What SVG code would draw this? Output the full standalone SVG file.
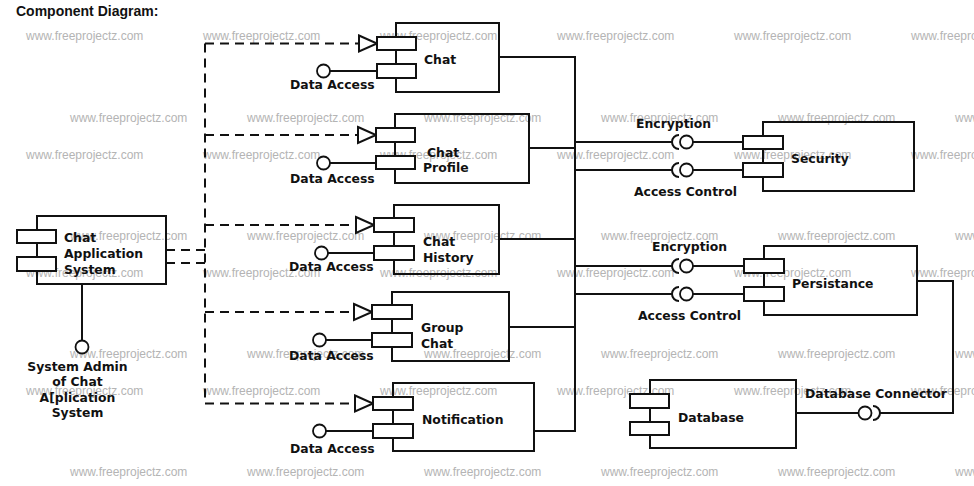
<svg xmlns="http://www.w3.org/2000/svg" width="974" height="486" viewBox="0 0 974 486">
<style>
.wm{font-family:"Liberation Sans",Arial,sans-serif;font-size:12px;fill:#b4b4b4}
.t{font-family:"DejaVu Sans",sans-serif;font-weight:bold;font-size:12.4px;fill:#111}
.title{font-family:"Liberation Sans",Arial,sans-serif;font-weight:bold;font-size:14px;fill:#111}
.box{fill:none;stroke:#111;stroke-width:2}
.port{fill:#fff;stroke:#111;stroke-width:2}
.ln{fill:none;stroke:#111;stroke-width:2}
.dash{fill:none;stroke:#111;stroke-width:2;stroke-dasharray:9 6}
.tri{fill:#fff;stroke:#111;stroke-width:2}
.ball{fill:#fff;stroke:#111;stroke-width:1.8}
</style>
<rect width="974" height="486" fill="#fff"/>
<g id="watermarks">
<text class="wm" x="26" y="40">www.freeprojectz.com</text><text class="wm" x="203" y="40">www.freeprojectz.com</text><text class="wm" x="380" y="40">www.freeprojectz.com</text><text class="wm" x="557" y="40">www.freeprojectz.com</text><text class="wm" x="734" y="40">www.freeprojectz.com</text><text class="wm" x="911" y="40">www.freeprojectz.com</text>
<text class="wm" x="70" y="122">www.freeprojectz.com</text><text class="wm" x="247" y="122">www.freeprojectz.com</text><text class="wm" x="424" y="122">www.freeprojectz.com</text><text class="wm" x="601" y="122">www.freeprojectz.com</text><text class="wm" x="778" y="122">www.freeprojectz.com</text><text class="wm" x="955" y="122">www.freeprojectz.com</text>
<text class="wm" x="26" y="159">www.freeprojectz.com</text><text class="wm" x="203" y="159">www.freeprojectz.com</text><text class="wm" x="380" y="159">www.freeprojectz.com</text><text class="wm" x="557" y="159">www.freeprojectz.com</text><text class="wm" x="734" y="159">www.freeprojectz.com</text><text class="wm" x="911" y="159">www.freeprojectz.com</text>
<text class="wm" x="70" y="240">www.freeprojectz.com</text><text class="wm" x="247" y="240">www.freeprojectz.com</text><text class="wm" x="424" y="240">www.freeprojectz.com</text><text class="wm" x="601" y="240">www.freeprojectz.com</text><text class="wm" x="778" y="240">www.freeprojectz.com</text><text class="wm" x="955" y="240">www.freeprojectz.com</text>
<text class="wm" x="26" y="277">www.freeprojectz.com</text><text class="wm" x="203" y="277">www.freeprojectz.com</text><text class="wm" x="380" y="277">www.freeprojectz.com</text><text class="wm" x="557" y="277">www.freeprojectz.com</text><text class="wm" x="734" y="277">www.freeprojectz.com</text><text class="wm" x="911" y="277">www.freeprojectz.com</text>
<text class="wm" x="70" y="358">www.freeprojectz.com</text><text class="wm" x="247" y="358">www.freeprojectz.com</text><text class="wm" x="424" y="358">www.freeprojectz.com</text><text class="wm" x="601" y="358">www.freeprojectz.com</text><text class="wm" x="778" y="358">www.freeprojectz.com</text><text class="wm" x="955" y="358">www.freeprojectz.com</text>
<text class="wm" x="26" y="395">www.freeprojectz.com</text><text class="wm" x="203" y="395">www.freeprojectz.com</text><text class="wm" x="380" y="395">www.freeprojectz.com</text><text class="wm" x="557" y="395">www.freeprojectz.com</text><text class="wm" x="734" y="395">www.freeprojectz.com</text><text class="wm" x="911" y="395">www.freeprojectz.com</text>
<text class="wm" x="70" y="476">www.freeprojectz.com</text><text class="wm" x="247" y="476">www.freeprojectz.com</text><text class="wm" x="424" y="476">www.freeprojectz.com</text><text class="wm" x="601" y="476">www.freeprojectz.com</text><text class="wm" x="778" y="476">www.freeprojectz.com</text><text class="wm" x="955" y="476">www.freeprojectz.com</text>
</g>
<text class="title" x="16" y="16">Component Diagram:</text>
<g id="connectors">
<!-- dependency dashed lines -->
<path class="dash" d="M166 250H205M166 263H205"/>
<path class="dash" d="M205 43.5V403.5"/>
<path class="dash" d="M205 43.5H359M205 135H358M205 225H356M205 312H354M205 403.5H355"/>
<path class="tri" d="M359 35.5L377 43.5L359 51.5Z"/>
<path class="tri" d="M358 127L376 135L358 143Z"/>
<path class="tri" d="M356 217L374 225L356 233Z"/>
<path class="tri" d="M354 304L372 312L354 320Z"/>
<path class="tri" d="M355 395.5L373 403.5L355 411.5Z"/>
<!-- data access -->
<path class="ln" d="M330 71H377M330 163H376M328 253H374M326 340H372M326 431H373"/>
<!-- system admin -->
<path class="ln" d="M82 284V341"/>
<!-- trunk -->
<path class="ln" d="M499 57H575V431H534M529 148H575M499 239H575M509 327H575"/>
<path class="ln" d="M575 142H672M575 170H672M575 266H672M575 294H672"/>
<path class="ln" d="M693 142H743M693 170H743M693 266H744M693 294H744"/>
<path class="ln" d="M679 135A7 7 0 0 0 679 149M679 163A7 7 0 0 0 679 177M679 259A7 7 0 0 0 679 273M679 287A7 7 0 0 0 679 301"/>
<!-- database connector -->
<path class="ln" d="M917 281H953V413H880M796 413H858"/>
<path class="ln" d="M873 406A7 7 0 0 1 873 420"/>
</g>
<g id="interfaces">
<circle class="ball" cx="323.5" cy="71" r="6.5"/>
<text class="t" x="290" y="89">Data Access</text>
<circle class="ball" cx="323.5" cy="163" r="6.5"/>
<text class="t" x="290" y="183">Data Access</text>
<circle class="ball" cx="321.5" cy="253" r="6.5"/>
<text class="t" x="289" y="271">Data Access</text>
<circle class="ball" cx="319.5" cy="340" r="6.5"/>
<text class="t" x="289" y="360">Data Access</text>
<circle class="ball" cx="319.5" cy="431" r="6.5"/>
<text class="t" x="290" y="453">Data Access</text>
<circle class="ball" cx="82" cy="347" r="6.5"/>
<text class="t" x="77.5" y="371" text-anchor="middle">System Admin</text>
<text class="t" x="77.5" y="386" text-anchor="middle">of Chat</text>
<text class="t" x="77.5" y="402" text-anchor="middle">A[plication</text>
<text class="t" x="77.5" y="417" text-anchor="middle">System</text>
<circle class="ball" cx="686.5" cy="142" r="6.5"/>
<circle class="ball" cx="686.5" cy="170" r="6.5"/>
<circle class="ball" cx="686.5" cy="266" r="6.5"/>
<circle class="ball" cx="686.5" cy="294" r="6.5"/>
<text class="t" x="636" y="128">Encryption</text>
<text class="t" x="634" y="196">Access Control</text>
<text class="t" x="652" y="251">Encryption</text>
<text class="t" x="638" y="320">Access Control</text>
<circle class="ball" cx="865" cy="413" r="6.5"/>
<text class="t" x="805" y="398">Database Connector</text>
</g>
<g id="chat-application-system">
<rect class="box" x="37" y="216" width="129" height="68"/>
<rect class="port" x="17" y="230" width="39" height="13"/>
<rect class="port" x="17" y="257" width="39" height="14"/>
<text class="t" x="64" y="242">Chat</text>
<text class="t" x="64" y="258">Application</text>
<text class="t" x="64" y="274">System</text>
</g>
<g id="chat">
<rect class="box" x="396" y="23" width="103" height="69"/>
<rect class="port" x="377" y="37" width="39" height="13"/>
<rect class="port" x="377" y="64" width="39" height="14"/>
<text class="t" x="424" y="64">Chat</text>
</g>
<g id="chat-profile">
<rect class="box" x="395" y="114" width="134" height="69"/>
<rect class="port" x="376" y="128" width="39" height="14"/>
<rect class="port" x="376" y="156" width="39" height="13"/>
<text class="t" x="427" y="157">Chat</text>
<text class="t" x="423" y="172">Profile</text>
</g>
<g id="chat-history">
<rect class="box" x="394" y="205" width="105" height="69"/>
<rect class="port" x="374" y="218" width="40" height="14"/>
<rect class="port" x="374" y="246" width="40" height="14"/>
<text class="t" x="423" y="246">Chat</text>
<text class="t" x="423" y="262">History</text>
</g>
<g id="group-chat">
<rect class="box" x="392" y="292" width="117" height="69"/>
<rect class="port" x="372" y="305" width="40" height="14"/>
<rect class="port" x="372" y="333" width="40" height="14"/>
<text class="t" x="421" y="332">Group</text>
<text class="t" x="421" y="348">Chat</text>
</g>
<g id="notification">
<rect class="box" x="393" y="383" width="141" height="68"/>
<rect class="port" x="373" y="397" width="40" height="13"/>
<rect class="port" x="373" y="424" width="40" height="14"/>
<text class="t" x="422" y="424">Notification</text>
</g>
<g id="security">
<rect class="box" x="763" y="122" width="151" height="69"/>
<rect class="port" x="743" y="136" width="40" height="13"/>
<rect class="port" x="743" y="163" width="40" height="14"/>
<text class="t" x="791" y="163">Security</text>
</g>
<g id="persistance">
<rect class="box" x="764" y="246" width="153" height="69"/>
<rect class="port" x="744" y="259" width="40" height="14"/>
<rect class="port" x="744" y="287" width="40" height="14"/>
<text class="t" x="792" y="288">Persistance</text>
</g>
<g id="database">
<rect class="box" x="650" y="380" width="146" height="68"/>
<rect class="port" x="630" y="394" width="39" height="14"/>
<rect class="port" x="630" y="422" width="39" height="13"/>
<text class="t" x="678" y="422">Database</text>
</g>
</svg>
